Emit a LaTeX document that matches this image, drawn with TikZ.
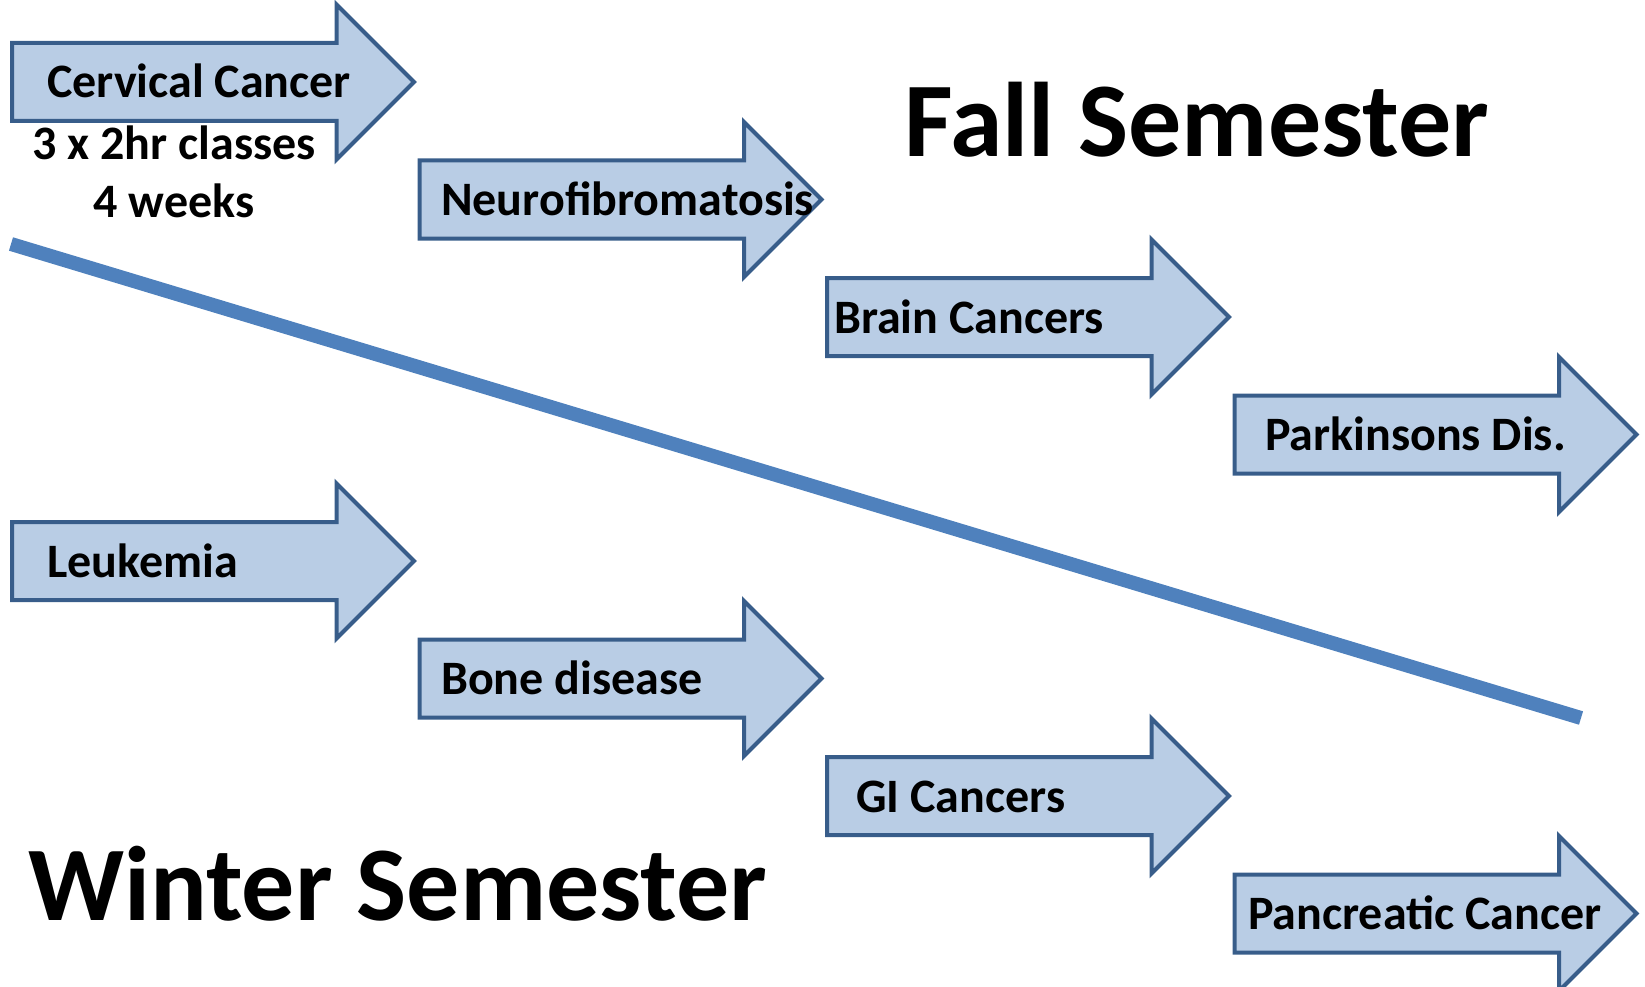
\documentclass[tikz,border=0pt]{standalone}
\usepackage{fontspec}
\setmainfont{Carlito}
\usetikzlibrary{shapes,calc}

\begin{document}
\begin{tikzpicture}[x=1pt,y=-1pt,
  arrowbox/.style={shape=single arrow,draw=arrowedge,fill=arrowfill,line width=4pt,
    minimum height=402pt,single arrow head extend=38.5pt,
    inner xsep=0pt,inner ysep=37pt,outer sep=0pt,anchor=west},
  topic/.style={anchor=base west,inner sep=0pt,font=\bfseries\fontsize{48}{56}\selectfont},
  note/.style={anchor=base,inner sep=0pt,font=\bfseries\fontsize{48}{56}\selectfont},
  term/.style={anchor=base west,inner sep=0pt,font=\bfseries\fontsize{106}{124}\selectfont}]

\definecolor{arrowfill}{RGB}{185,205,229}
\definecolor{arrowedge}{RGB}{56,93,138}
\definecolor{divider}{RGB}{79,129,189}

\useasboundingbox (0,0) rectangle (1645,987);

\coordinate (F1) at (12,82);
\coordinate (F2) at (419.5,199.5);
\coordinate (F3) at (827,317);
\coordinate (F4) at (1234.5,434.5);
\coordinate (W1) at (12,561);
\coordinate (W2) at (419.5,678.5);
\coordinate (W3) at (827,796);
\coordinate (W4) at (1234.5,913.5);
\coordinate (S) at (11,244);
\coordinate (E) at (1581,718);

\draw [divider,line width=14pt] (S) -- (E);

\node (cervical) at (F1) [arrowbox] {};
\node (neuro) at (F2) [arrowbox] {};
\node (brain) at (F3) [arrowbox] {};
\node (parkinsons) at (F4) [arrowbox] {};
\node (leukemia) at (W1) [arrowbox] {};
\node (bone) at (W2) [arrowbox] {};
\node (gi) at (W3) [arrowbox] {};
\node (pancreatic) at (W4) [arrowbox] {};

\node (cervicaltext) at ($(F1)+(35,16)$) [topic] {Cervical Cancer};
\node (neurotext) at ($(F2)+(21.5,16)$) [topic] {Neurofibromatosis};
\node (braintext) at ($(F3)+(7,16)$) [topic] {Brain Cancers};
\node (parkinsonstext) at ($(F4)+(30.5,16)$) [topic] {Parkinsons Dis.};
\node (leukemiatext) at ($(W1)+(35,16)$) [topic] {Leukemia};
\node (bonetext) at ($(W2)+(21.5,16)$) [topic] {Bone disease};
\node (gitext) at ($(W3)+(29,16)$) [topic] {GI Cancers};
\node (pancreatictext) at ($(W4)+(13.5,16)$) [topic] {Pancreatic Cancer};

\node (classes) at (174,160) [note] {3 x 2hr classes};
\node (weeks) at (174,217) [note] {4 weeks};

\node (fall) at (904,157) [term] {Fall Semester};
\node (winter) at (28,920) [term] {Winter Semester};

\end{tikzpicture}
\end{document}
